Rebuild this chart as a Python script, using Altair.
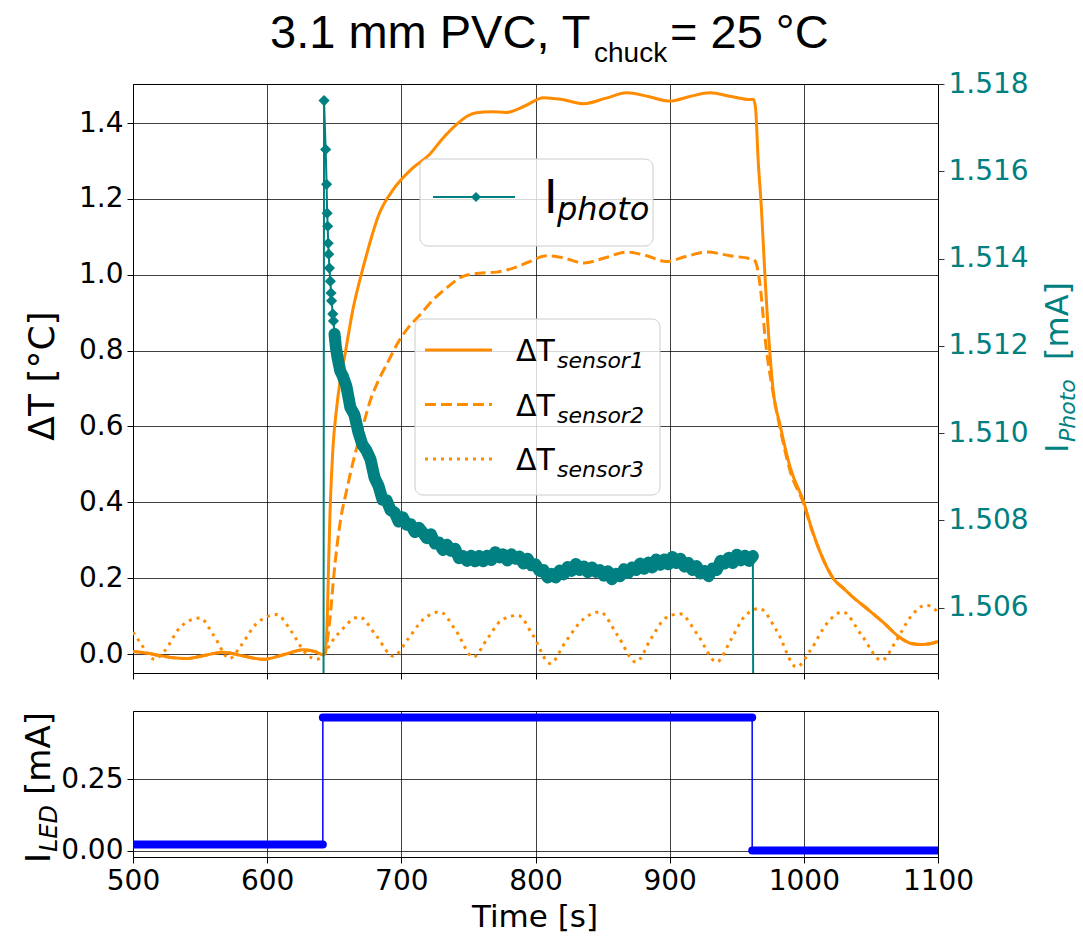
import altair as alt
import pandas as pd

# ---------------- data ----------------
# Delta T sensor 1 (solid)
s1_t = [500, 510, 520, 530, 540, 553, 567, 582, 597, 612, 627, 636, 641.5, 643, 645, 645.8,
        646.8, 649, 651.5, 654.3, 658, 664, 671.6, 684, 694, 708, 721, 731, 741, 750, 756,
        767, 778, 792, 806, 820, 836, 852, 868, 884, 900, 915, 930, 946, 960, 962.5, 964,
        966, 968.3, 971.3, 975, 977, 982.3, 990, 1000, 1005, 1012, 1022, 1030, 1035, 1047,
        1059, 1071, 1080, 1088, 1094, 1100]
s1_v = [0.007, 0.003, -0.004, -0.010, -0.012, -0.004, 0.005, -0.005, -0.014, -0.002, 0.011,
        0.006, -0.002, 0.0, 0.12, 0.24, 0.367, 0.542, 0.64, 0.718, 0.79, 0.91, 1.02, 1.165,
        1.225, 1.28, 1.317, 1.36, 1.396, 1.42, 1.427, 1.43, 1.428, 1.445, 1.467, 1.462,
        1.451, 1.465, 1.480, 1.470, 1.458, 1.470, 1.480, 1.470, 1.462, 1.462, 1.44, 1.30,
        1.18, 0.98, 0.78, 0.70, 0.604, 0.49, 0.40, 0.34, 0.27, 0.199, 0.172, 0.155, 0.12,
        0.084, 0.045, 0.028, 0.025, 0.027, 0.033]

# Delta T sensor 2 (dashed)
s2_t = [500, 510, 520, 530, 540, 553, 567, 582, 597, 612, 627, 636, 641.5, 643, 645, 647,
        649.5, 651.8, 655, 659, 665, 671.6, 677, 682.8, 690, 696.5, 705, 713.8, 724, 733.7,
        746, 758, 771, 784, 796, 808, 820, 836, 852, 868, 883, 897.5, 912, 927.5, 945,
        962.5, 964.5, 967, 972, 977, 982.3, 990, 1000, 1005, 1012, 1022, 1030, 1035, 1047,
        1059, 1071, 1080, 1088, 1094, 1100]
s2_v = [0.007, 0.003, -0.004, -0.010, -0.012, -0.004, 0.005, -0.005, -0.014, -0.002, 0.011,
        0.006, -0.002, 0.0, 0.04, 0.10, 0.20, 0.278, 0.36, 0.428, 0.52, 0.604, 0.67, 0.72,
        0.77, 0.815, 0.86, 0.894, 0.935, 0.965, 0.996, 1.004, 1.007, 1.018, 1.035, 1.050,
        1.045, 1.031, 1.045, 1.060, 1.050, 1.035, 1.048, 1.060, 1.050, 1.040, 1.03, 0.983,
        0.806, 0.69, 0.595, 0.48, 0.395, 0.337, 0.27, 0.199, 0.172, 0.155, 0.12, 0.084,
        0.045, 0.028, 0.025, 0.027, 0.033]

# Delta T sensor 3 (dotted)
s3_t = [500, 505, 516, 524, 535, 550, 560, 572, 580, 592, 607, 618, 628, 637, 652, 668.6,
        681, 694, 705, 716, 728.8, 741, 753.6, 764, 775, 787, 798, 811, 822, 835, 848, 861,
        875, 886, 897, 907.6, 921, 935, 946, 956, 967, 980, 994.5, 1005, 1017, 1029, 1043,
        1058, 1068, 1080, 1091, 1100]
s3_v = [0.058, 0.032, -0.014, 0.01, 0.07, 0.095, 0.05, -0.012, 0.02, 0.08, 0.104, 0.06,
        0.005, -0.014, 0.05, 0.098, 0.05, -0.006, 0.04, 0.09, 0.111, 0.06, -0.008, 0.04,
        0.09, 0.102, 0.05, -0.025, 0.03, 0.09, 0.111, 0.05, -0.021, 0.04, 0.095, 0.106,
        0.05, -0.021, 0.04, 0.10, 0.120, 0.06, -0.034, 0.01, 0.08, 0.111, 0.05, -0.017,
        0.03, 0.10, 0.129, 0.111]

# Photo current (right axis)
photo_t = [641.9, 642.4, 643.6, 644.3, 644.7, 645.1, 645.5, 645.9, 646.4, 647.1, 647.6, 648.0,
           648.9, 649.4, 650.2, 651.3, 652.5, 654.5, 656.3,
           659, 662, 665, 668, 671, 674, 677, 680, 683, 686, 689, 692, 695, 698, 701, 704,
           707, 710, 713, 716, 719, 722, 725, 728, 731, 734, 737, 740, 743, 746, 749, 752,
           755, 758, 761, 764, 767, 770, 773, 776, 779, 782, 785, 788, 791, 794, 797, 800,
           803, 806, 809, 812, 815, 818, 821, 824, 827, 830, 833, 836, 839, 842, 845, 848,
           851, 854, 857, 860, 863, 866, 869, 872, 875, 878, 881, 884, 887, 890, 893, 896,
           899, 902, 905, 908, 911, 914, 917, 920, 923, 926, 929, 932, 935, 938, 941, 944,
           947, 950, 953, 956, 959, 962, 962.6]
photo_v = [1.5000, 1.51762, 1.51650, 1.51570, 1.51504, 1.51474, 1.51435, 1.51410, 1.51378,
           1.51348, 1.51321, 1.51303, 1.51273, 1.51257, 1.51227, 1.51195, 1.51172, 1.51142,
           1.51131,
           1.51108, 1.51059, 1.51042, 1.51002, 1.50973, 1.50960, 1.50940, 1.50898, 1.50879,
           1.50847, 1.50846, 1.50823, 1.50818, 1.50797, 1.50807, 1.50790, 1.50791, 1.50773,
           1.50783, 1.50772, 1.50759, 1.50768, 1.50747, 1.50749, 1.50732, 1.50744, 1.50730,
           1.50735, 1.50713, 1.50718, 1.50707, 1.50719, 1.50706, 1.50718, 1.50706, 1.50719,
           1.50709, 1.50727, 1.50715, 1.50722, 1.50708, 1.50722, 1.50712, 1.50717, 1.50701,
           1.50712, 1.50697, 1.50699, 1.50684, 1.50686, 1.50669, 1.50677, 1.50669, 1.50685,
           1.50676, 1.50693, 1.50684, 1.50700, 1.50686, 1.50694, 1.50681, 1.50692, 1.50682,
           1.50686, 1.50673, 1.50683, 1.50665, 1.50677, 1.50672, 1.50688, 1.50679, 1.50692,
           1.50686, 1.50701, 1.50689, 1.50703, 1.50692, 1.50710, 1.50698, 1.50710, 1.50699,
           1.50716, 1.50702, 1.50712, 1.50694, 1.50702, 1.50686, 1.50695, 1.50678, 1.50684,
           1.50672, 1.50689, 1.50686, 1.50707, 1.50701, 1.50714, 1.50702, 1.50721, 1.50708,
           1.50719, 1.50707, 1.50718, 1.5000]

# LED current (bottom panel)
led_step_t = [500, 641.5, 641.5, 961.5, 961.5, 1100]
led_step_v = [0.021, 0.021, 0.468, 0.468, 0.0, 0.0]
led_seg_start = [500, 641.5, 961.5]
led_seg_end = [641.5, 961.5, 1100]
led_seg_level = [0.021, 0.468, 0.0]

x_ticks = [500, 600, 700, 800, 900, 1000, 1100]
dt_ticks = [0.0, 0.2, 0.4, 0.6, 0.8, 1.0, 1.2, 1.4]
ip_ticks = [1.506, 1.508, 1.510, 1.512, 1.514, 1.516, 1.518]
led_ticks = [0.0, 0.25]

# ---------------- style ----------------
TEAL = "#008080"
ORANGE = "#ff8c00"
BLUE = "#0000ff"
FONT = "DejaVu Sans"
TFONT = "Liberation Sans"
LBL = 28
W, H_TOP, H_BOT = 805, 589, 146

T_DOMAIN = [500, 1100]
DT_DOMAIN = [-0.050, 1.503]
IP_DOMAIN = [1.5045, 1.518]
LED_DOMAIN = [-0.0225, 0.4905]

one = pd.DataFrame({"k": [0]})


def axis_common(**kw):
    base = dict(tickSize=6, tickWidth=1, tickColor="black", domain=False,
                gridColor="black", gridOpacity=0.75, gridWidth=1,
                labelFont=FONT, labelFontSize=LBL, labelColor="black",
                labelPadding=4, labelFlush=False, labelOverlap=False, title=None)
    base.update(kw)
    return alt.Axis(**base)


def x_enc(labels):
    return alt.X("t:Q", scale=alt.Scale(domain=T_DOMAIN, nice=False, zero=False),
                 axis=axis_common(values=x_ticks, labels=labels, grid=True, format="d"))


def txt(s, x, y, size, color="black", italic=False, angle=0, align="left", font=FONT):
    kw = dict(text=s, fontSize=size, font=font, color=color, align=align,
              baseline="alphabetic")
    if italic:
        kw["fontStyle"] = "italic"
    if angle:
        kw["angle"] = angle
    return alt.Chart(one).mark_text(**kw).encode(x=alt.value(x), y=alt.value(y))


def sensor(t, v, axis, dash=None):
    df = pd.DataFrame({"t": t, "v": v})
    mk = dict(color=ORANGE, strokeWidth=3, interpolate="monotone", clip=True)
    if dash:
        mk["strokeDash"] = dash
    return alt.Chart(df).mark_line(**mk).encode(
        x=x_enc(False),
        y=alt.Y("v:Q", scale=alt.Scale(domain=DT_DOMAIN, nice=False, zero=False), axis=axis))


left_axis = axis_common(values=dt_ticks, format=".1f", grid=True, orient="left")
l1 = sensor(s1_t, s1_v, left_axis)
l2 = sensor(s2_t, s2_v, None, [11, 5])
l3 = sensor(s3_t, s3_v, None, [3, 5])

photo_df = pd.DataFrame({"t": photo_t, "v": photo_v})
ip_scale = alt.Scale(domain=IP_DOMAIN, nice=False, zero=False)
right_axis = axis_common(values=ip_ticks, format=".3f", grid=False, orient="right",
                         labelColor=TEAL, tickColor="#333333")
p_line = alt.Chart(photo_df).mark_line(color=TEAL, strokeWidth=2, clip=True).encode(
    x=x_enc(False), y=alt.Y("v:Q", scale=ip_scale, axis=right_axis))
p_band = alt.Chart(photo_df).transform_filter(
    "datum.t > 650 && datum.v > 1.5046").mark_line(
    color=TEAL, strokeWidth=12, strokeJoin="round", strokeCap="round", clip=True).encode(
    x=x_enc(False), y=alt.Y("v:Q", scale=ip_scale, axis=None))
p_pts = alt.Chart(photo_df).transform_filter("datum.v > 1.5046").mark_point(
    shape="diamond", filled=True, size=125, color=TEAL, opacity=1, clip=True).encode(
    x=x_enc(False), y=alt.Y("v:Q", scale=ip_scale, axis=None))

# layout anchor (keeps the plot origin where the reference has it)
anchor = alt.Chart(one).mark_rule(opacity=0).encode(
    x=alt.value(-132.5), y=alt.value(-83), y2=alt.value(-60))

# legend 1 (photo current)
leg1 = [
    alt.Chart(one).mark_rect(fill="white", fillOpacity=0.8, stroke="#cccccc", strokeWidth=1,
                             cornerRadius=8).encode(
        x=alt.value(287), x2=alt.value(520), y=alt.value(75), y2=alt.value(162)),
    alt.Chart(one).mark_rule(color=TEAL, strokeWidth=2).encode(
        x=alt.value(300), x2=alt.value(382), y=alt.value(113)),
    alt.Chart(one).mark_point(shape="diamond", filled=True, size=100, color=TEAL,
                              opacity=1).encode(x=alt.value(343), y=alt.value(113)),
    txt("I", 411, 129, 46),
    txt("photo", 424, 136, 32, italic=True),
]

# legend 2 (sensors)
leg2 = [
    alt.Chart(one).mark_rect(fill="white", fillOpacity=0.8, stroke="#cccccc", strokeWidth=1,
                             cornerRadius=8).encode(
        x=alt.value(282), x2=alt.value(527), y=alt.value(235), y2=alt.value(411)),
]
for i, (dash, lab) in enumerate([(None, "sensor1"), ([11, 5], "sensor2"), ([3, 5], "sensor3")]):
    yy = 266 + i * 54.5
    mk = dict(color=ORANGE, strokeWidth=3)
    if dash:
        mk["strokeDash"] = dash
    leg2.append(alt.Chart(one).mark_rule(**mk).encode(
        x=alt.value(292), x2=alt.value(359), y=alt.value(yy)))
    leg2.append(txt("\u0394T", 383, yy + 11, 30))
    leg2.append(txt(lab, 424, yy + 18, 22, italic=True))

# title and axis titles of the top panel
titles_top = [
    txt("3.1 mm PVC, T", 137, -36, 47, font=TFONT),
    txt("chuck", 461, -22, 28, font=TFONT),
    txt("= 25 \u00b0C", 537, -36, 47, font=TFONT),
    txt("\u0394T [\u00b0C]", -79, 292, 36, angle=270, align="center"),
    txt("I", 935, 369, 32, color=TEAL, angle=270),
    txt("Photo", 942, 358, 22, color=TEAL, italic=True, angle=270),
    txt("[mA]", 935, 276, 32, color=TEAL, angle=270),
]

top = alt.layer(anchor, l1, l2, l3, p_line, p_band, p_pts, *leg1, *leg2,
                *titles_top).resolve_scale(y="independent").properties(width=W, height=H_TOP)

# bottom panel
led_df = pd.DataFrame({"t": led_step_t, "v": led_step_v})
seg_df = pd.DataFrame({"t": led_seg_start, "t2": led_seg_end, "v": led_seg_level})
led_scale = alt.Scale(domain=LED_DOMAIN, nice=False, zero=False)
led_axis = axis_common(values=led_ticks, format=".2f", grid=True, orient="left")
b_line = alt.Chart(led_df).mark_line(color=BLUE, strokeWidth=1.5, clip=True).encode(
    x=x_enc(True), y=alt.Y("v:Q", scale=led_scale, axis=led_axis))
b_thick = alt.Chart(seg_df).mark_rule(color=BLUE, strokeWidth=8, strokeCap="round",
                                       clip=True).encode(
    x=x_enc(True), x2="t2:Q", y=alt.Y("v:Q", scale=led_scale, axis=led_axis))
titles_bot = [
    txt("Time [s]", 402, 216, 31, align="center"),
    txt("I", -83, 152, 34, angle=270),
    txt("LED", -76, 141, 24, italic=True, angle=270),
    txt("[mA]", -83, 84, 34, angle=270),
]
bottom = alt.layer(b_line, b_thick, *titles_bot).properties(width=W, height=H_BOT)

chart = alt.vconcat(top, bottom, spacing=38, bounds="flush").properties(
    padding=0).configure_view(stroke="black", strokeWidth=1)

chart.save("out.html", embed_options={"renderer": "svg", "actions": False})
